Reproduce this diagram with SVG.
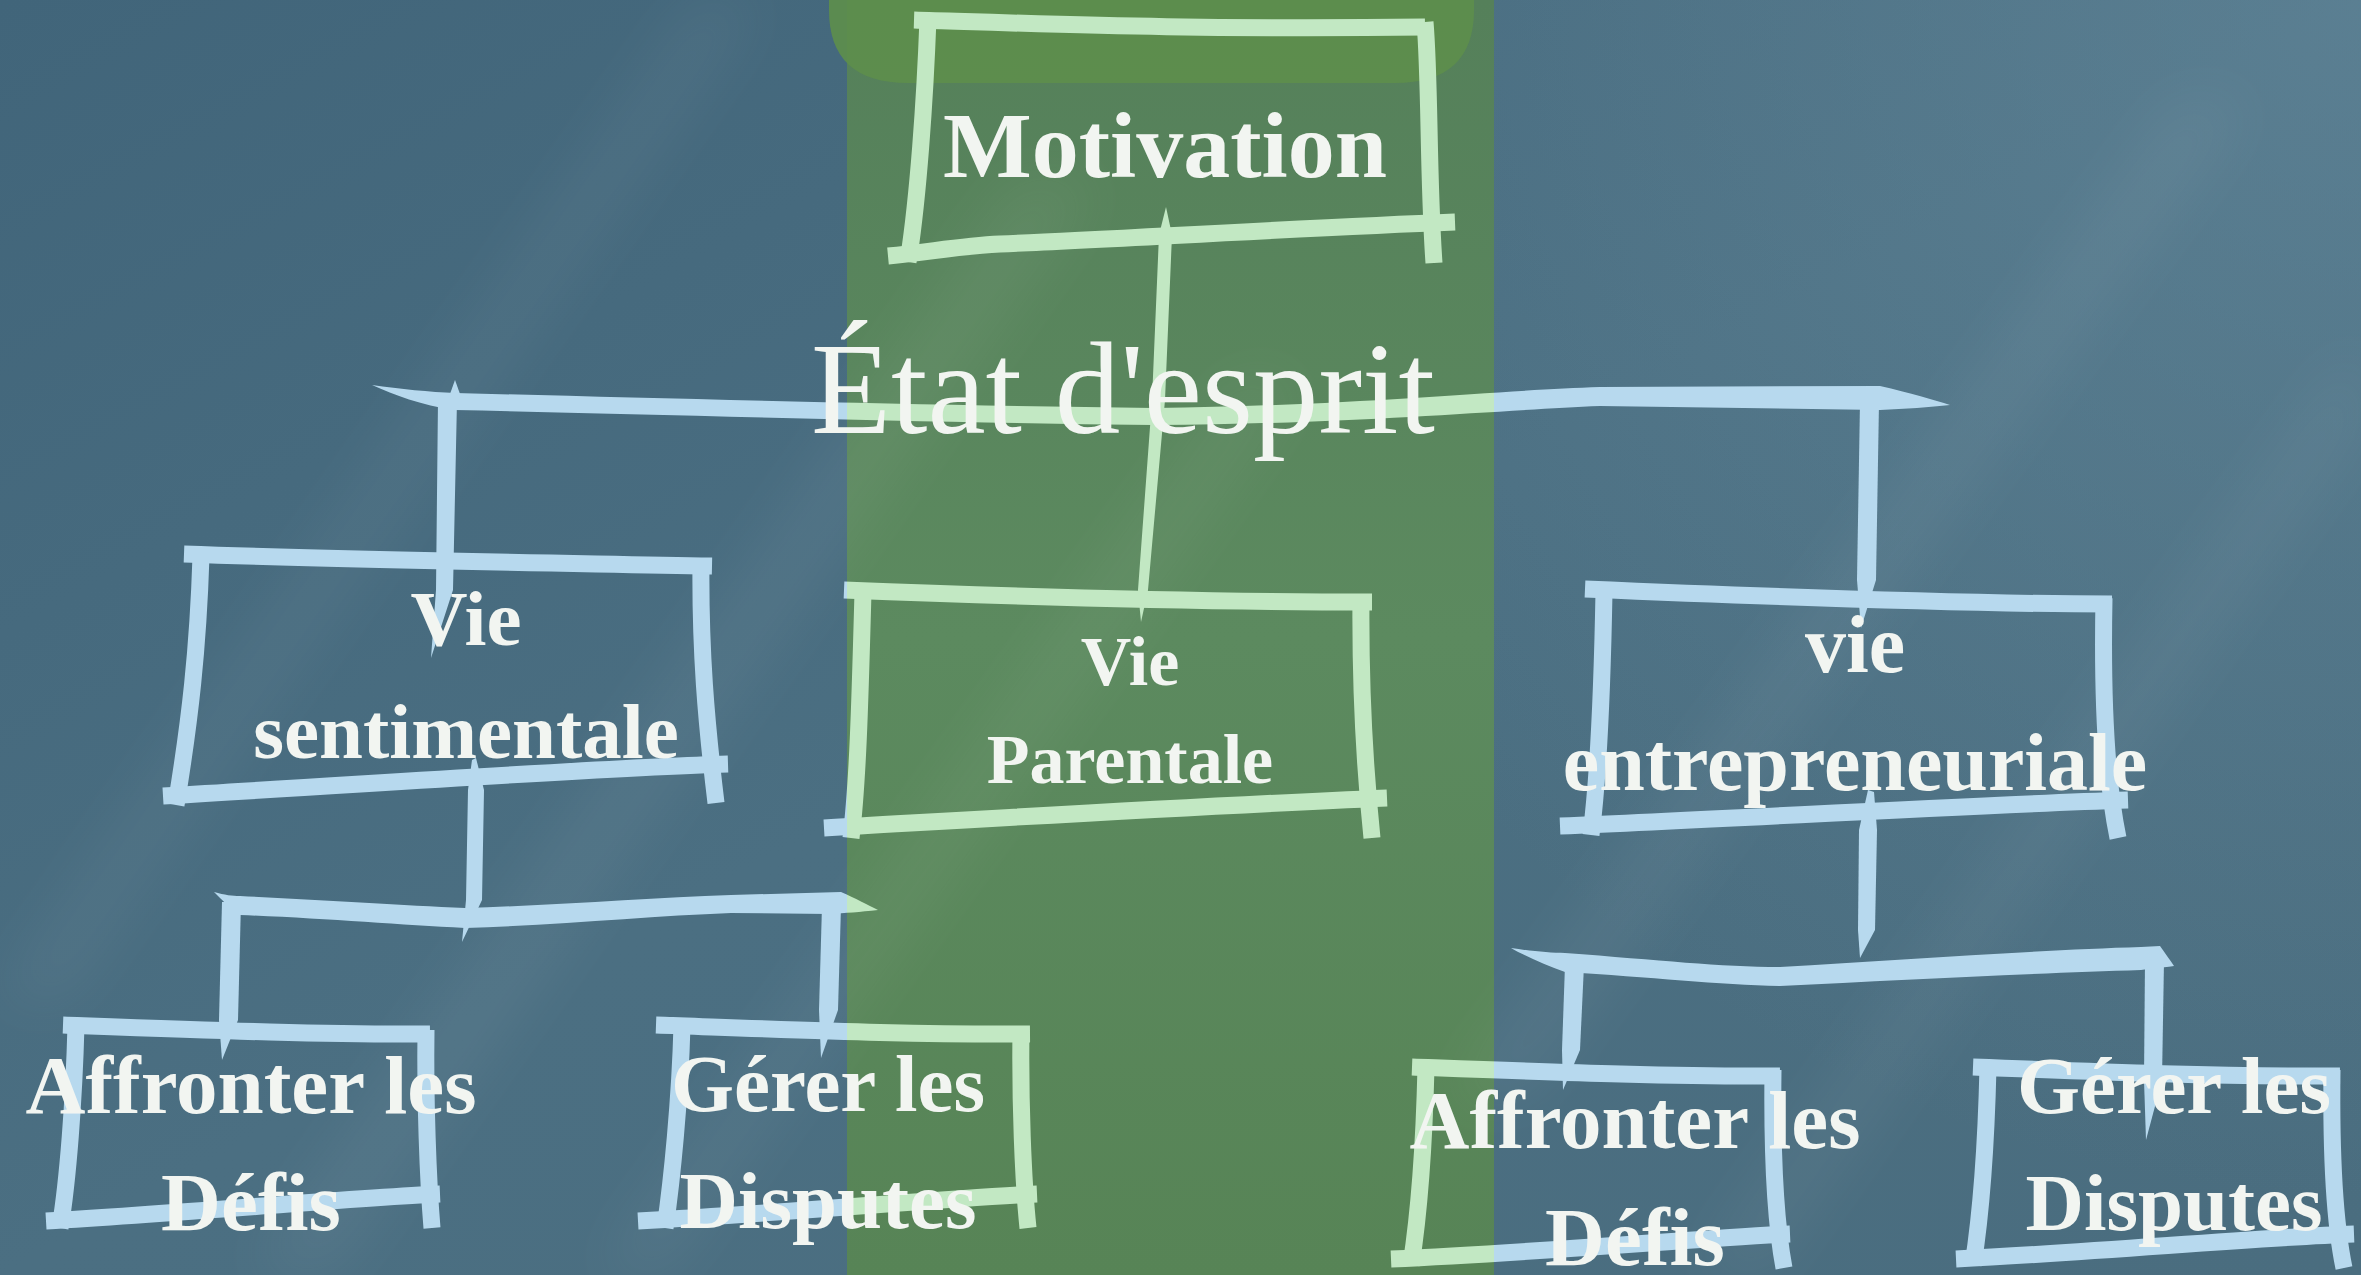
<svg xmlns="http://www.w3.org/2000/svg" width="2361" height="1275" viewBox="0 0 2361 1275">
<defs>
  <linearGradient id="bgGrad" x1="0" y1="0" x2="1" y2="1">
    <stop offset="0" stop-color="#41657a"/>
    <stop offset="0.5" stop-color="#4b6f82"/>
    <stop offset="1" stop-color="#4a6d7f"/>
  </linearGradient>
  <radialGradient id="topRight" cx="2361" cy="0" r="1200" gradientUnits="userSpaceOnUse">
    <stop offset="0" stop-color="#6a8fa2" stop-opacity="0.5"/>
    <stop offset="1" stop-color="#6a8fa2" stop-opacity="0"/>
  </radialGradient>
  <linearGradient id="bandGrad" x1="0" y1="0" x2="0" y2="1">
    <stop offset="0" stop-color="#55805a"/>
    <stop offset="0.5" stop-color="#5c8a5f"/>
    <stop offset="1" stop-color="#578456"/>
  </linearGradient>
  <linearGradient id="chalk" gradientUnits="userSpaceOnUse" x1="0" y1="0" x2="2361" y2="0">
    <stop offset="0" stop-color="#b7d9ee"/>
    <stop offset="0.3587" stop-color="#b7d9ee"/>
    <stop offset="0.3587" stop-color="#c2e8c3"/>
    <stop offset="0.6328" stop-color="#c2e8c3"/>
    <stop offset="0.6328" stop-color="#b7d9ee"/>
    <stop offset="1" stop-color="#b7d9ee"/>
  </linearGradient>
  <filter id="soft" x="-50%" y="-50%" width="200%" height="200%">
    <feGaussianBlur stdDeviation="30"/>
  </filter>
  <style>
    .box path { fill: none; stroke: url(#chalk); stroke-width: 17; stroke-linecap: butt; stroke-linejoin: round; }
    .conn { fill: url(#chalk); stroke: none; }
    .lbl { font-family: "Liberation Serif", "Times New Roman", serif; font-weight: bold; fill: #f2f5f1; text-anchor: middle; }
    .title { font-family: "Liberation Serif", "Times New Roman", serif; font-weight: normal; fill: #f2f5f1; text-anchor: middle; }
  </style>
</defs>

<!-- background -->
<g id="background">
  <rect x="0" y="0" width="2361" height="1275" fill="url(#bgGrad)"/>
  <rect x="0" y="0" width="2361" height="1275" fill="url(#topRight)"/>
  <rect x="847" y="0" width="647" height="1275" fill="url(#bandGrad)"/>
  <path d="M829,-10 L1474,-10 L1474,10 Q1474,83 1395,83 L908,83 Q829,83 829,10 Z" fill="#5d8e4c" opacity="0.92"/>
  <g filter="url(#soft)" fill="#ffffff" opacity="0.055">
    <path d="M0,1000 L60,1000 L760,0 L700,0 Z"/>
    <path d="M250,1275 L330,1275 L1100,180 L1020,180 Z"/>
    <path d="M600,1275 L660,1275 L1300,380 L1240,380 Z"/>
    <path d="M1450,1100 L1520,1100 L2250,100 L2180,100 Z"/>
    <path d="M1700,1275 L1760,1275 L2361,420 L2361,340 Z"/>
  </g>
</g>

<!-- connectors -->
<g id="connectors">
  <!-- main horizontal bar -->
  <path class="conn" d="M372,385 C400,389 430,392 455,393 C650,398 900,405 1154,408 C1350,406 1500,390 1600,387 L1880,386 C1910,393 1935,400 1950,405 C1930,407 1905,409 1880,410 L1600,406 C1500,410 1350,424 1154,425 C900,422 650,414 455,410 C420,405 395,395 372,385 Z"/>
  <path class="conn" d="M450,394 L455,380 L460,394 Z"/>
  <!-- Motivation down to Vie Parentale -->
  <path class="conn" d="M1166,207 L1172,235 L1165,400 L1148,590 L1141,622 L1138,590 L1152,400 L1159,235 Z"/>
  <!-- drop to Vie sentimentale -->
  <path class="conn" d="M438,400 L457,400 L453,590 L431,658 L436,590 Z"/>
  <!-- drop to vie entrepreneuriale -->
  <path class="conn" d="M1860,402 L1879,402 L1876,580 L1861,628 L1857,580 Z"/>
  <!-- left subtree -->
  <path class="conn" d="M472,760 L476,758 L484,790 L482,900 L462,942 L466,900 L468,790 Z"/>
  <path class="conn" d="M214,892 C225,895 232,896 240,896 C320,900 400,905 465,908 C560,905 650,898 731,895 L841,892 C855,898 868,905 878,910 C860,912 845,913 830,914 L731,913 C650,916 560,925 465,928 C400,925 320,918 240,915 C230,908 222,900 214,892 Z"/>
  <path class="conn" d="M222,902 L241,902 L238,1020 L222,1060 L219,1020 Z"/>
  <path class="conn" d="M822,906 L841,906 L838,1010 L821,1058 L819,1010 Z"/>
  <!-- right subtree -->
  <path class="conn" d="M1868,790 L1874,792 L1877,830 L1875,930 L1860,958 L1858,930 L1859,830 Z"/>
  <path class="conn" d="M1511,948 C1530,951 1550,953 1565,953 C1660,960 1720,967 1780,967 C1900,960 2040,950 2141,947 L2160,946 C2165,953 2170,960 2174,966 C2160,968 2150,969 2141,970 C2040,973 1900,980 1780,986 C1720,985 1650,977 1565,972 C1545,965 1525,956 1511,948 Z"/>
  <path class="conn" d="M1565,965 L1584,965 L1580,1050 L1563,1090 L1562,1050 Z"/>
  <path class="conn" d="M2145,960 L2164,960 L2162,1080 L2146,1140 L2144,1080 Z"/>
</g>

<!-- connector label -->
<g id="label-etat">
  <text class="title" x="1123" y="433" font-size="131">État d'esprit</text>
</g>

<!-- nodes -->
<g id="node-motivation" class="box">
  <path d="M914,20 C1050,24 1200,30 1425,27"/>
  <path d="M1425,22 C1430,80 1428,180 1434,263"/>
  <path d="M1455,222 C1300,228 1100,240 1000,244 C960,246 930,252 888,256"/>
  <path d="M928,18 C925,100 918,200 908,262"/>
  <text class="lbl" x="1165" y="177" font-size="94">Motivation</text>
</g>

<g id="node-vie-sentimentale" class="box">
  <path d="M184,554 C350,560 500,562 712,566"/>
  <path d="M701,560 C700,650 706,720 716,803"/>
  <path d="M728,764 C600,768 400,782 163,796"/>
  <path d="M201,556 C198,650 190,720 176,805"/>
  <text class="lbl" x="466" y="645" font-size="79">Vie</text>
  <text class="lbl" x="466" y="758" font-size="79">sentimentale</text>
</g>

<g id="node-vie-parentale" class="box">
  <path d="M844,590 C1000,596 1200,602 1372,602"/>
  <path d="M1361,596 C1360,700 1366,780 1372,838"/>
  <path d="M1387,798 C1200,806 1000,818 824,828"/>
  <path d="M863,592 C860,700 858,780 851,838"/>
  <text class="lbl" x="1130" y="685" font-size="70">Vie</text>
  <text class="lbl" x="1130" y="783" font-size="70">Parentale</text>
</g>

<g id="node-vie-entrepreneuriale" class="box">
  <path d="M1585,589 C1750,596 1950,604 2112,604"/>
  <path d="M2104,598 C2102,700 2106,780 2118,838"/>
  <path d="M2128,800 C1950,806 1750,818 1560,826"/>
  <path d="M1604,592 C1602,700 1598,780 1591,835"/>
  <text class="lbl" x="1855" y="672" font-size="82">vie</text>
  <text class="lbl" x="1855" y="790" font-size="82">entrepreneuriale</text>
</g>

<g id="node-affronter-1" class="box">
  <path d="M63,1025 C200,1030 330,1035 430,1034"/>
  <path d="M426,1030 C425,1100 428,1180 432,1228"/>
  <path d="M440,1194 C350,1198 200,1212 46,1221"/>
  <path d="M76,1025 C74,1100 68,1180 60,1228"/>
  <text class="lbl" x="251" y="1113" font-size="83">Affronter les</text>
  <text class="lbl" x="251" y="1230" font-size="83">Défis</text>
</g>

<g id="node-gerer-1" class="box">
  <path d="M656,1025 C800,1030 920,1035 1030,1034"/>
  <path d="M1021,1030 C1020,1100 1023,1180 1028,1228"/>
  <path d="M1037,1194 C950,1198 800,1212 638,1221"/>
  <path d="M682,1025 C680,1100 672,1180 665,1228"/>
  <text class="lbl" x="828" y="1111" font-size="81">Gérer les</text>
  <text class="lbl" x="828" y="1228" font-size="81">Disputes</text>
</g>

<g id="node-affronter-2" class="box">
  <path d="M1412,1067 C1550,1072 1680,1077 1780,1076"/>
  <path d="M1773,1070 C1772,1150 1775,1220 1784,1268"/>
  <path d="M1790,1234 C1700,1238 1550,1252 1391,1259"/>
  <path d="M1426,1067 C1424,1150 1418,1220 1411,1265"/>
  <text class="lbl" x="1635" y="1148" font-size="83">Affronter les</text>
  <text class="lbl" x="1635" y="1265" font-size="83">Défis</text>
</g>

<g id="node-gerer-2" class="box">
  <path d="M1973,1067 C2100,1072 2230,1077 2340,1076"/>
  <path d="M2332,1070 C2331,1150 2334,1220 2344,1268"/>
  <path d="M2354,1234 C2250,1238 2100,1252 1956,1259"/>
  <path d="M1988,1067 C1986,1150 1980,1220 1973,1265"/>
  <text class="lbl" x="2174" y="1113" font-size="81">Gérer les</text>
  <text class="lbl" x="2174" y="1230" font-size="81">Disputes</text>
</g>
</svg>
